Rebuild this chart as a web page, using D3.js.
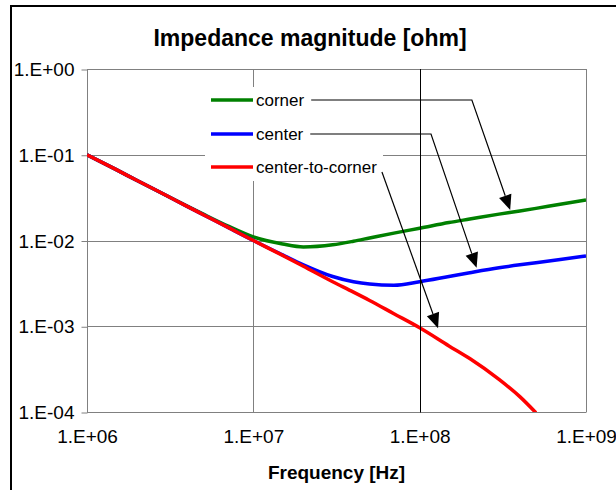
<!DOCTYPE html>
<html>
<head>
<meta charset="utf-8">
<script src="https://cdn.jsdelivr.net/npm/d3@7"></script>
<style>
  html, body { margin: 0; padding: 0; background: #fff; }
  svg { display: block; }
  text { font-family: "Liberation Sans", Arial, sans-serif; fill: #000; }
</style>
</head>
<body>
<svg id="chart" width="616" height="490"></svg>
<script>
// Frequency sweep [Hz]
const freq = [1e6, 1.5e6, 2e6, 3e6, 4e6, 5e6, 7e6, 1e7, 1.5e7, 2e7, 3e7, 4e7, 5e7,
              7e7, 1e8, 1.5e8, 2e8, 3e8, 4e8, 5e8, 7e8, 1e9];

// Impedance magnitude [ohm] per probe location
const cornerZ = [0.1, 0.067, 0.05, 0.0335, 0.0252, 0.0203, 0.0148, 0.011, 0.0091, 0.0084,
                 0.0089, 0.0098, 0.0107, 0.0122, 0.0139, 0.0162, 0.0178, 0.0203, 0.0221,
                 0.0237, 0.0265, 0.0296];
const centerZ = [0.1, 0.067, 0.05, 0.0335, 0.025, 0.02, 0.0143, 0.01, 0.0068, 0.0052,
                 0.0038, 0.0033, 0.0031, 0.003, 0.0033, 0.0038, 0.0042, 0.0048, 0.0052,
                 0.0055, 0.006, 0.0066];
const ctcZ    = [0.1, 0.067, 0.05, 0.0335, 0.025, 0.02, 0.0143, 0.01, 0.0067, 0.005,
                 0.0033, 0.0025, 0.002, 0.0014, 0.00096, 0.00059, 0.00042, 0.00024,
                 0.000151, 0.000098, null, null];

const seriesNames  = ["corner", "center", "center-to-corner"];
const seriesValues = [cornerZ, centerZ, ctcZ];
const seriesColors = ["#008000", "#0000ff", "#ff0000"];

// Axis ticks and their labels
const xTicks = [1e6, 1e7, 1e8, 1e9];
const xTickLabels = ["1.E+06", "1.E+07", "1.E+08", "1.E+09"];
const yTicks = [1e-4, 1e-3, 1e-2, 1e-1, 1e0];
const yTickLabels = ["1.E-04", "1.E-03", "1.E-02", "1.E-01", "1.E+00"];

// Callout arrows: elbow point and tip in data coordinates
const calloutElbow = [[2.06e8, 0.447], [1.17e8, 0.17], [6.1e7, 0.063]];
const calloutTip   = [[3.5e8, 0.0227], [2.2e8, 0.0048], [1.29e8, 0.00095]];

const svg = d3.select("#chart");
const plot = { left: 87, right: 586, top: 69, bottom: 412 };

const x = d3.scaleLog().domain([1e6, 1e9]).range([plot.left, plot.right]);
const y = d3.scaleLog().domain([1e-4, 1]).range([plot.bottom, plot.top]);

svg.append("rect").attr("width", 616).attr("height", 490).attr("fill", "#fff");

// Chart frame
svg.append("path")
  .attr("d", "M11,490V6H616")
  .attr("fill", "none").attr("stroke", "#000").attr("stroke-width", 2);

// Title
svg.append("text")
  .attr("x", 310).attr("y", 46)
  .attr("text-anchor", "middle")
  .attr("font-size", 23).attr("font-weight", "bold")
  .text("Impedance magnitude [ohm]");

// Horizontal gridlines
svg.append("g").selectAll("line").data(yTicks).join("line")
  .attr("x1", plot.left).attr("x2", plot.right)
  .attr("y1", d => Math.round(y(d)) + 0.5).attr("y2", d => Math.round(y(d)) + 0.5)
  .attr("stroke", "#808080").attr("stroke-width", 1);

// Vertical gridline at 1E+07 and plot edges
svg.append("g").selectAll("line").data([1e6, 1e7, 1e9]).join("line")
  .attr("x1", d => Math.round(x(d)) + 0.5).attr("x2", d => Math.round(x(d)) + 0.5)
  .attr("y1", plot.top).attr("y2", plot.bottom + 0.5)
  .attr("stroke", "#808080").attr("stroke-width", 1);

// Y axis: labels and outward ticks
const yAxis = d3.axisLeft(y)
  .tickValues(yTicks)
  .tickFormat((d, i) => yTickLabels[i])
  .tickSize(6).tickPadding(7);
const gy = svg.append("g").attr("transform", `translate(${plot.left + 0.5},0.5)`).call(yAxis);
gy.select(".domain").remove();
gy.selectAll(".tick line").attr("stroke", "#808080");
gy.selectAll(".tick text").attr("font-size", 19)
  .attr("font-family", "'Liberation Sans', Arial, sans-serif").attr("fill", "#000");

// X axis: labels only
const xAxis = d3.axisBottom(x)
  .tickValues(xTicks)
  .tickFormat((d, i) => xTickLabels[i])
  .tickSize(0).tickPadding(18);
const gx = svg.append("g").attr("transform", `translate(0,${plot.bottom})`).call(xAxis);
gx.select(".domain").remove();
gx.selectAll(".tick text").attr("font-size", 19)
  .attr("font-family", "'Liberation Sans', Arial, sans-serif").attr("fill", "#000");

// X axis title
svg.append("text")
  .attr("x", (plot.left + plot.right) / 2).attr("y", 479)
  .attr("text-anchor", "middle")
  .attr("font-size", 19).attr("font-weight", "bold")
  .text("Frequency [Hz]");

// Curves, clipped to the plot area
svg.append("clipPath").attr("id", "plotClip")
  .append("rect")
  .attr("x", plot.left).attr("y", plot.top)
  .attr("width", plot.right - plot.left).attr("height", plot.bottom - plot.top);

const line = d3.line()
  .defined(d => d[1] != null)
  .x(d => x(d[0])).y(d => y(d[1]))
  .curve(d3.curveMonotoneX);

const curves = svg.append("g").attr("clip-path", "url(#plotClip)");
seriesValues.forEach((vals, i) => {
  curves.append("path")
    .datum(freq.map((f, k) => [f, vals[k]]))
    .attr("fill", "none")
    .attr("stroke", seriesColors[i])
    .attr("stroke-width", 3.5)
    .attr("stroke-linejoin", "round")
    .attr("d", line);
});

// Vertical marker at 1E+08
svg.append("line")
  .attr("x1", Math.round(x(1e8)) + 0.5).attr("x2", Math.round(x(1e8)) + 0.5)
  .attr("y1", plot.top).attr("y2", plot.bottom + 0.5)
  .attr("stroke", "#000").attr("stroke-width", 1);

// Legend with white background
const legend = { x: 205, y: 87, w: 178, h: 94, rowY: [100, 134, 167], lineX1: 211, lineX2: 253, textX: 256 };
svg.append("rect")
  .attr("x", legend.x).attr("y", legend.y)
  .attr("width", legend.w).attr("height", legend.h)
  .attr("fill", "#fff");

const legendText = [];
seriesNames.forEach((name, i) => {
  const ry = legend.rowY[i];
  svg.append("line")
    .attr("x1", legend.lineX1).attr("x2", legend.lineX2)
    .attr("y1", ry).attr("y2", ry)
    .attr("stroke", seriesColors[i]).attr("stroke-width", 3.5);
  legendText.push(svg.append("text")
    .attr("x", legend.textX).attr("y", ry + 6)
    .attr("font-size", 17)
    .text(name));
});

// Callout arrows from legend entries to their curves
seriesNames.forEach((name, i) => {
  const ry = legend.rowY[i];
  const textEnd = legend.textX + legendText[i].node().getComputedTextLength();
  const ex = x(calloutElbow[i][0]), ey = y(calloutElbow[i][1]);
  const tx = x(calloutTip[i][0]), ty = y(calloutTip[i][1]);
  const pts = i < 2 ? [[textEnd + 7, ry], [ex, ry], [tx, ty]] : [[textEnd + 5, ey], [tx, ty]];
  // shorten the shaft so it ends inside the head
  const [px, py] = pts[pts.length - 2];
  const len = Math.hypot(tx - px, ty - py);
  const ux = (tx - px) / len, uy = (ty - py) / len;
  const headL = 15, headW = 6.5;
  const bx = tx - ux * headL, by = ty - uy * headL;
  const shaft = pts.slice(0, -1).concat([[bx, by]]);
  svg.append("path")
    .attr("d", d3.line()(shaft))
    .attr("fill", "none").attr("stroke", "#000").attr("stroke-width", 1.2);
  svg.append("path")
    .attr("d", d3.line()([[tx, ty], [bx - uy * headW, by + ux * headW], [bx + uy * headW, by - ux * headW]]) + "Z")
    .attr("fill", "#000");
});
</script>
</body>
</html>
